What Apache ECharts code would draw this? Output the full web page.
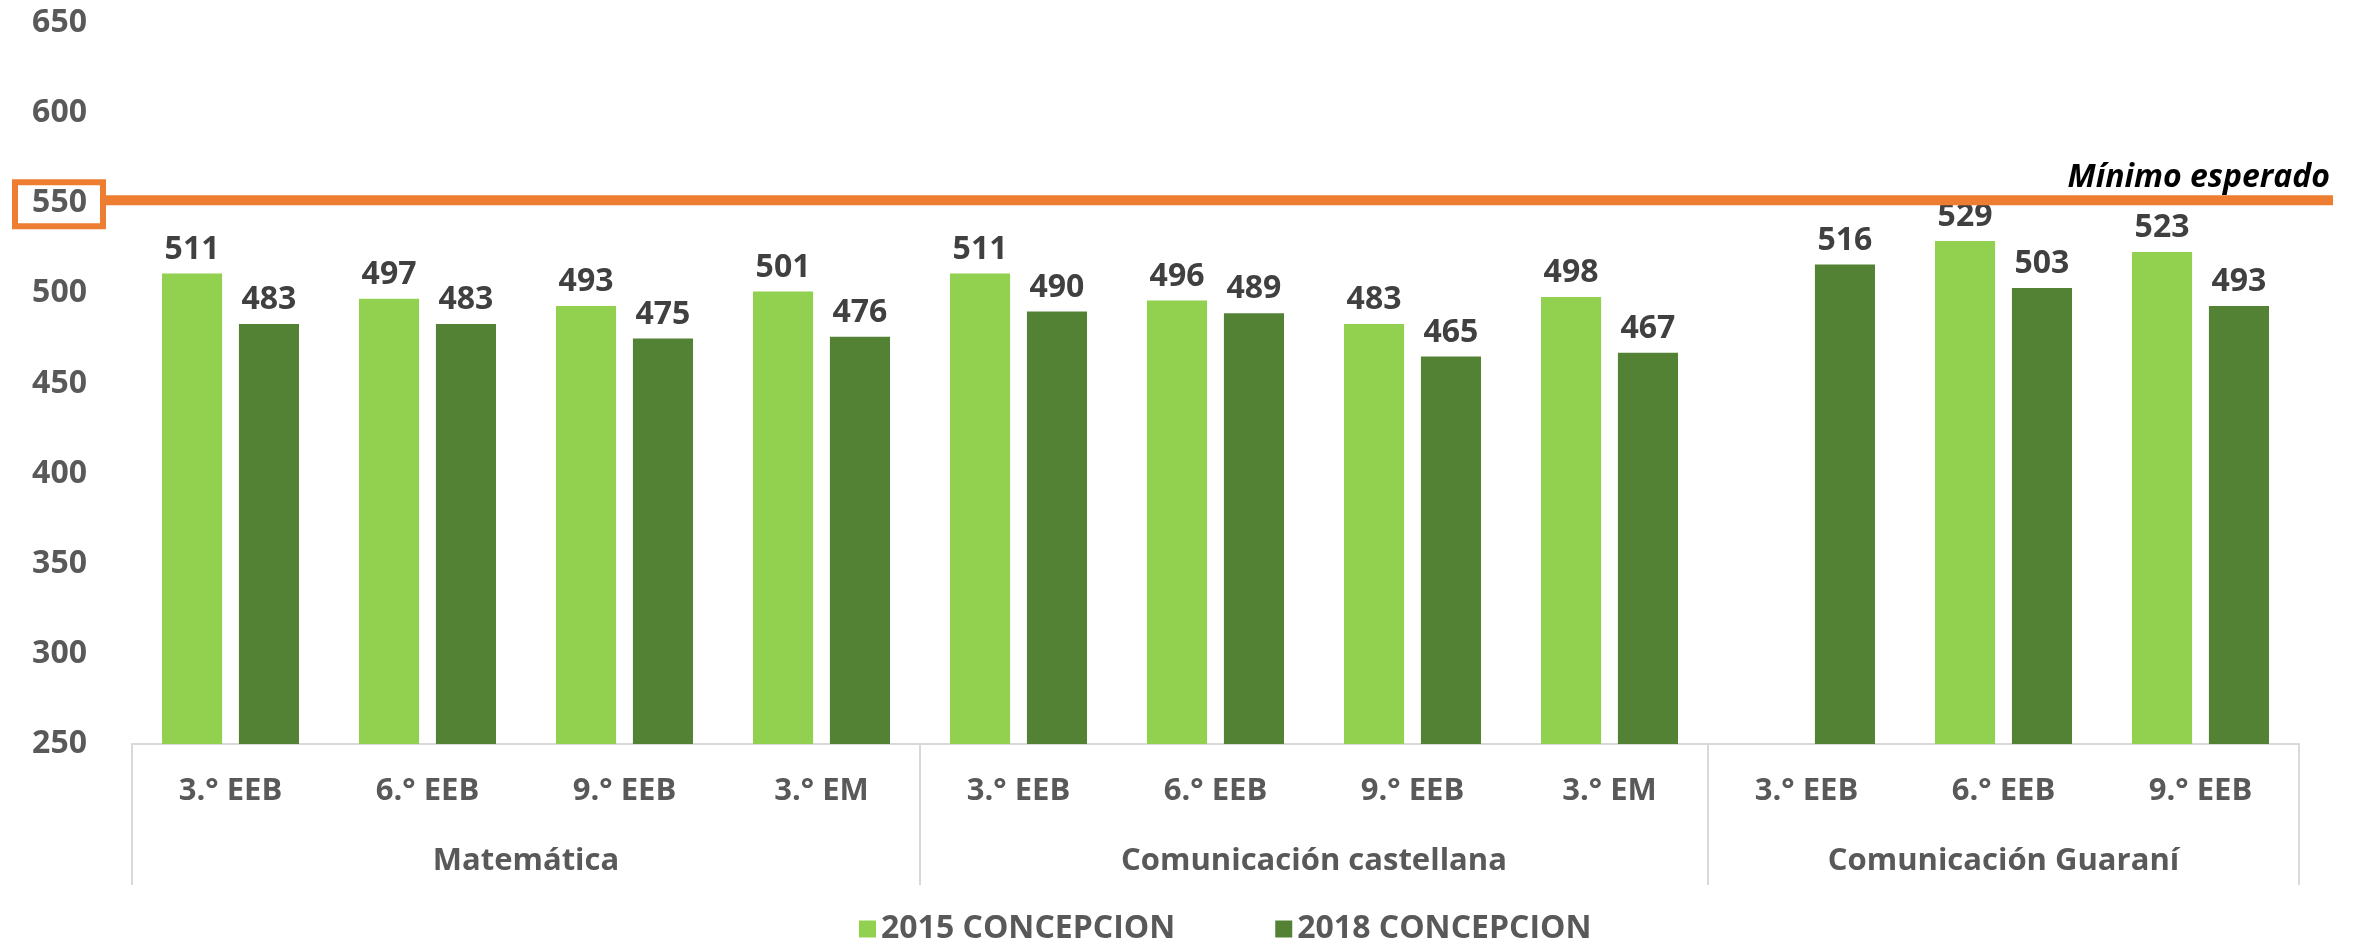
<!DOCTYPE html>
<html>
<head>
<meta charset="utf-8">
<script src="https://cdn.jsdelivr.net/npm/echarts@6/dist/echarts.min.js"></script>
<style>
    html, body { margin: 0; padding: 0; background: #fff; }
    #chart { width: 2359px; height: 946px; }
</style>
</head>
<body>
<div id="chart"></div>
<script>
var FONT = '"Open Sans"';
var grades = ['3.° EEB', '6.° EEB', '9.° EEB', '3.° EM',
              '3.° EEB', '6.° EEB', '9.° EEB', '3.° EM',
              '3.° EEB', '6.° EEB', '9.° EEB'];
var subjects = ['Matemática', 'Comunicación castellana', 'Comunicación Guaraní'];
var subjectSizes = [4, 4, 3];
var seriesNames = ['2015 CONCEPCION', '2018 CONCEPCION'];
var values2015 = [511, 497, 493, 501, 511, 496, 483, 498, null, 529, 523];
var values2018 = [483, 483, 475, 476, 490, 489, 465, 467, 516, 503, 493];
var minimumExpected = 550;
var minimumLabel = 'Mínimo esperado';

// centres and borders of the subject groups, in category units
var groupCenters = {};
var groupBorders = [0];
var start = 0;
subjects.forEach(function (s, i) {
    groupCenters[start + subjectSizes[i] / 2] = s;
    start += subjectSizes[i];
    groupBorders.push(start);
});

var chart = echarts.init(document.getElementById('chart'));

function barSeries(name, data, color) {
    return {
        name: name,
        type: 'bar',
        data: data,
        barWidth: '30.5%',
        barGap: '28%',
        itemStyle: { color: color },
        label: {
            show: true,
            position: 'top',
            distance: 8,
            color: '#404040',
            fontFamily: FONT,
            fontWeight: 'bold',
            fontSize: 32
        }
    };
}

var option = {
    animation: false,
    textStyle: { fontFamily: FONT },
    grid: { left: 132, right: 60, top: 23, bottom: 202 },
    legend: {
        data: seriesNames,
        left: 854,
        top: 908,
        itemWidth: 17,
        itemHeight: 17,
        itemGap: 100,
        icon: 'rect',
        textStyle: { color: '#595959', fontFamily: FONT, fontWeight: 'bold', fontSize: 32 }
    },
    xAxis: [{
        type: 'category',
        data: grades,
        axisLine: { lineStyle: { color: '#D9D9D9', width: 2 } },
        axisTick: {
            show: true,
            length: 141,
            lineStyle: { color: '#D9D9D9', width: 2 },
            interval: function (index) { return groupBorders.indexOf(index) >= 0; }
        },
        axisLabel: {
            interval: 0,
            margin: 32,
            color: '#595959',
            fontFamily: FONT,
            fontWeight: 'bold',
            fontSize: 31
        }
    }, {
        type: 'value',
        position: 'bottom',
        min: 0,
        max: grades.length,
        interval: 0.5,
        axisLine: { show: false },
        axisTick: { show: false },
        splitLine: { show: false },
        axisLabel: {
            margin: 102,
            color: '#595959',
            fontFamily: FONT,
            fontWeight: 'bold',
            fontSize: 31,
            showMinLabel: true,
            showMaxLabel: true,
            formatter: function (v) { return groupCenters[v] || ''; }
        }
    }],
    yAxis: {
        type: 'value',
        min: 250,
        max: 650,
        interval: 50,
        axisLine: { show: false },
        axisTick: { show: false },
        splitLine: { show: false },
        axisLabel: {
            margin: 45,
            color: '#595959',
            fontFamily: FONT,
            fontWeight: 'bold',
            fontSize: 32
        }
    },
    series: [
        barSeries(seriesNames[0], values2015, '#92D050'),
        barSeries(seriesNames[1], values2018, '#548235')
    ]
};

chart.setOption(option);

// reference line for the expected minimum, placed through the y scale
var yMin = chart.convertToPixel({ yAxisIndex: 0 }, minimumExpected);
chart.setOption({
    graphic: [{
        type: 'rect',
        shape: { x: 15, y: yMin - 21, width: 88, height: 44 },
        style: { fill: 'none', stroke: '#ED7D31', lineWidth: 6 },
        z: 10
    }, {
        type: 'line',
        shape: { x1: 106, y1: yMin - 3, x2: 2333, y2: yMin - 3 },
        style: { stroke: '#ED7D31', lineWidth: 10 },
        z: 10
    }, {
        type: 'text',
        x: 2330,
        y: yMin - 9,
        style: {
            text: minimumLabel,
            align: 'right',
            verticalAlign: 'bottom',
            fill: '#000',
            font: 'italic bold 32px ' + FONT
        },
        z: 10
    }]
});
</script>
</body>
</html>
